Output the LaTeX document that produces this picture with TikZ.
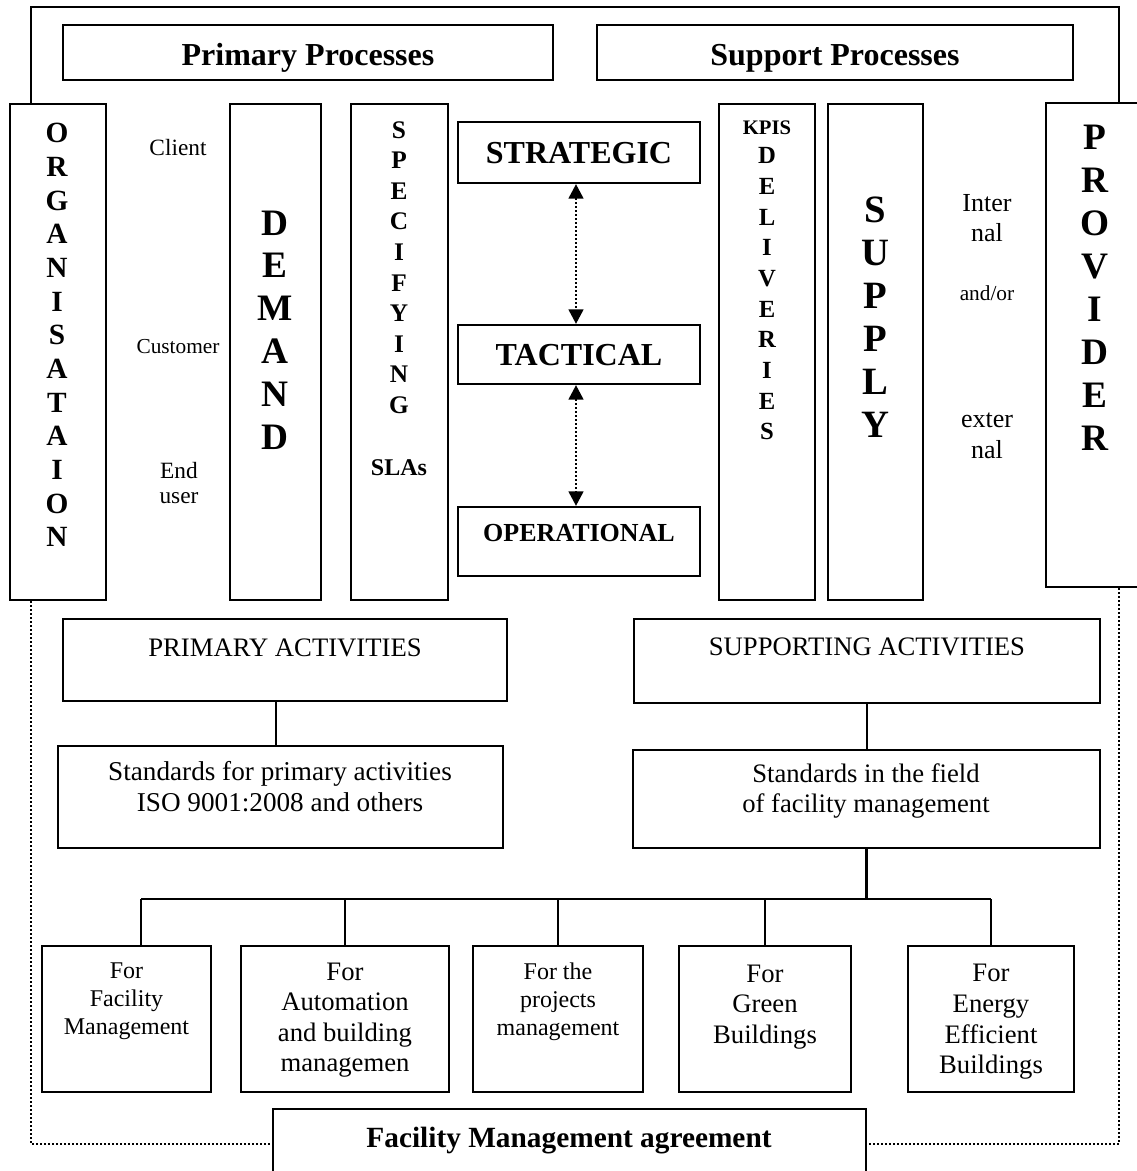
\documentclass[tikz,border=0pt]{standalone}
\usepackage{fontspec}
\setmainfont{Liberation Serif}
\usetikzlibrary{fit,arrows.meta}
\newcommand\myfs[2]{\fontsize{#1}{#2}\selectfont}
\begin{document}
\begin{tikzpicture}[x=0.75pt,y=-0.75pt,
  box/.style={draw, line width=1.6pt, inner sep=0pt},
  lbl/.style={inner sep=0pt, align=center},
  frame/.style={line width=0.9pt},
  dotln/.style={line width=2.1pt, dash pattern=on 1.6pt off 1.4pt},
  conn/.style={line width=1.6pt},
  darr/.style={line width=2.1pt, dash pattern=on 1.6pt off 1.4pt,
    {Triangle[width=11pt,length=11pt]}-{Triangle[width=11pt,length=11pt]}}]
\useasboundingbox[fill=white] (0,0) rectangle (1137,1171);

% boxes
\node[box, fit={(63,25) (553,80)}] (pp) {};
\node[box, fit={(597,25) (1073,80)}] (sp) {};
\node[box, fit={(10,104) (106,600)}] (org) {};
\node[box, fit={(230,104) (321,600)}] (dem) {};
\node[box, fit={(351,104) (448,600)}] (spec) {};
\node[box, fit={(458,122) (700,183)}] (strat) {};
\node[box, fit={(458,325) (700,384)}] (tact) {};
\node[box, fit={(458,507) (700,576)}] (oper) {};
\node[box, fit={(719,104) (815,600)}] (kpi) {};
\node[box, fit={(828,104) (923,600)}] (sup) {};
\node[box, fit={(1046,103) (1150,587)}] (prov) {};
\node[box, fit={(63,619) (507,701)}] (pa) {};
\node[box, fit={(634,619) (1100,703)}] (sa) {};
\node[box, fit={(58,746) (503,848)}] (spa) {};
\node[box, fit={(633,750) (1100,848)}] (sfm) {};
\node[box, fit={(42,946) (211,1092)}] (b1) {};
\node[box, fit={(241,946) (449,1092)}] (b2) {};
\node[box, fit={(473,946) (643,1092)}] (b3) {};
\node[box, fit={(679,946) (851,1092)}] (b4) {};
\node[box, fit={(908,946) (1074,1092)}] (b5) {};
\node[box, fit={(273,1109) (866,1190)}] (fma) {};

% texts
\node[lbl, anchor=base, font=\bfseries\myfs{24}{28}] (ppt) at (308,65.6) {Primary Processes};
\node[lbl, anchor=base, font=\bfseries\myfs{24}{28}] (spt) at (835,65.6) {Support Processes};
\node[lbl, font=\bfseries\myfs{22}{25.25}] (orgt) at (57,335) {O\\R\\G\\A\\N\\I\\S\\A\\T\\A\\I\\O\\N};
\node[lbl, anchor=base, font=\myfs{17.5}{20}] (client) at (178,155.7) {Client};
\node[lbl, anchor=base, font=\myfs{16}{19}] (cust) at (178,353) {Customer};
\node[lbl, font=\myfs{17.5}{18.4}] (endu) at (179,483) {End\\user};
\node[lbl, font=\bfseries\myfs{28}{32.1}] (demt) at (275,330) {D\\E\\M\\A\\N\\D};
\node[lbl, font=\bfseries\myfs{19}{22.9}] (spect) at (399,267.5) {S\\P\\E\\C\\I\\F\\Y\\I\\N\\G};
\node[lbl, anchor=base, font=\bfseries\myfs{18}{21}] (slas) at (399,475) {SLAs};
\node[lbl, anchor=base, font=\bfseries\myfs{24}{28}] (stratt) at (579,163.5) {STRATEGIC};
\node[lbl, anchor=base, font=\bfseries\myfs{24}{28}] (tactt) at (579,365.5) {TACTICAL};
\node[lbl, anchor=base, font=\bfseries\myfs{19.5}{23}] (opert) at (579,541.6) {OPERATIONAL};
\node[lbl, anchor=base, font=\bfseries\myfs{15.5}{18}] (kpis) at (767,134) {KPIS};
\node[lbl, font=\bfseries\myfs{18.5}{23}] (delt) at (767,294) {D\\E\\L\\I\\V\\E\\R\\I\\E\\S};
\node[lbl, font=\bfseries\myfs{29}{32.25}] (supt) at (875,317.5) {S\\U\\P\\P\\L\\Y};
\node[lbl, font=\myfs{19.5}{23}] (intt) at (987,218) {Inter\\nal};
\node[lbl, anchor=base, font=\myfs{16}{19}] (andor) at (987,300) {and/or};
\node[lbl, font=\myfs{19.5}{23}] (extt) at (987,436) {exter\\nal};
\node[lbl, font=\bfseries\myfs{28}{32.25}] (provt) at (1095,287.5) {P\\R\\O\\V\\I\\D\\E\\R};
\node[lbl, anchor=base, font=\myfs{20}{23}] (pat) at (285,656.8) {PRIMARY ACTIVITIES};
\node[lbl, anchor=base, font=\myfs{20}{23}] (sat) at (867,655.8) {SUPPORTING ACTIVITIES};
\node[lbl, font=\myfs{20.4}{23.25}] (spat) at (280,787) {Standards for primary activities\\ISO 9001:2008 and others};
\node[lbl, font=\myfs{20}{22.5}] (sfmt) at (866,791) {Standards in the field\\of facility management};
\node[lbl, font=\myfs{18}{21}] (b1t) at (126.5,1001.5) {For\\Facility\\Management};
\node[lbl, font=\myfs{20}{22.75}] (b2t) at (345,1020) {For\\Automation\\and building\\managemen};
\node[lbl, font=\myfs{18}{21}] (b3t) at (558,1002) {For the\\projects\\management};
\node[lbl, font=\myfs{20}{23}] (b4t) at (765,1007) {For\\Green\\Buildings};
\node[lbl, font=\myfs{20}{23}] (b5t) at (991,1022) {For\\Energy\\Efficient\\Buildings};
\node[lbl, anchor=base, font=\bfseries\myfs{22}{26}] (fmat) at (569,1147.7) {Facility Management agreement};

% frame lines
\coordinate (tl) at (31,7);
\coordinate (tr) at (1119,7);
\coordinate (bl) at (31,1144);
\coordinate (br) at (1119,1144);
\draw[frame] (org.north -| tl) -- (tl) -- (tr) -- (prov.north -| tr);
\draw[dotln] (org.south -| bl) -- (bl) -- (bl -| fma.west);
\draw[dotln] (prov.south -| br) -- (br) -- (br -| fma.east);

% arrows
\draw[darr] ([xshift=-2.25pt]strat.south) -- ([xshift=-2.25pt]tact.north);
\draw[darr] ([xshift=-2.25pt]tact.south) -- ([xshift=-2.25pt]oper.north);

% connectors
\draw[conn] ([xshift=-6.75pt]pa.south) -- ([xshift=-6.75pt]pa.south |- spa.north);
\draw[conn] (sa.south) -- (sa.south |- sfm.north);
\coordinate (hl) at (141,899);
\coordinate (hr) at (991,899);
\draw[conn] (sfm.south) -- (sfm.south |- hl);
\draw[conn] (hl) -- (hr);
\draw[conn] (hl) -- (hl |- b1.north);
\draw[conn] (b2.north |- hl) -- (b2.north);
\draw[conn] (b3.north |- hl) -- (b3.north);
\draw[conn] (b4.north |- hl) -- (b4.north);
\draw[conn] (b5.north |- hl) -- (b5.north);
\end{tikzpicture}
\end{document}
